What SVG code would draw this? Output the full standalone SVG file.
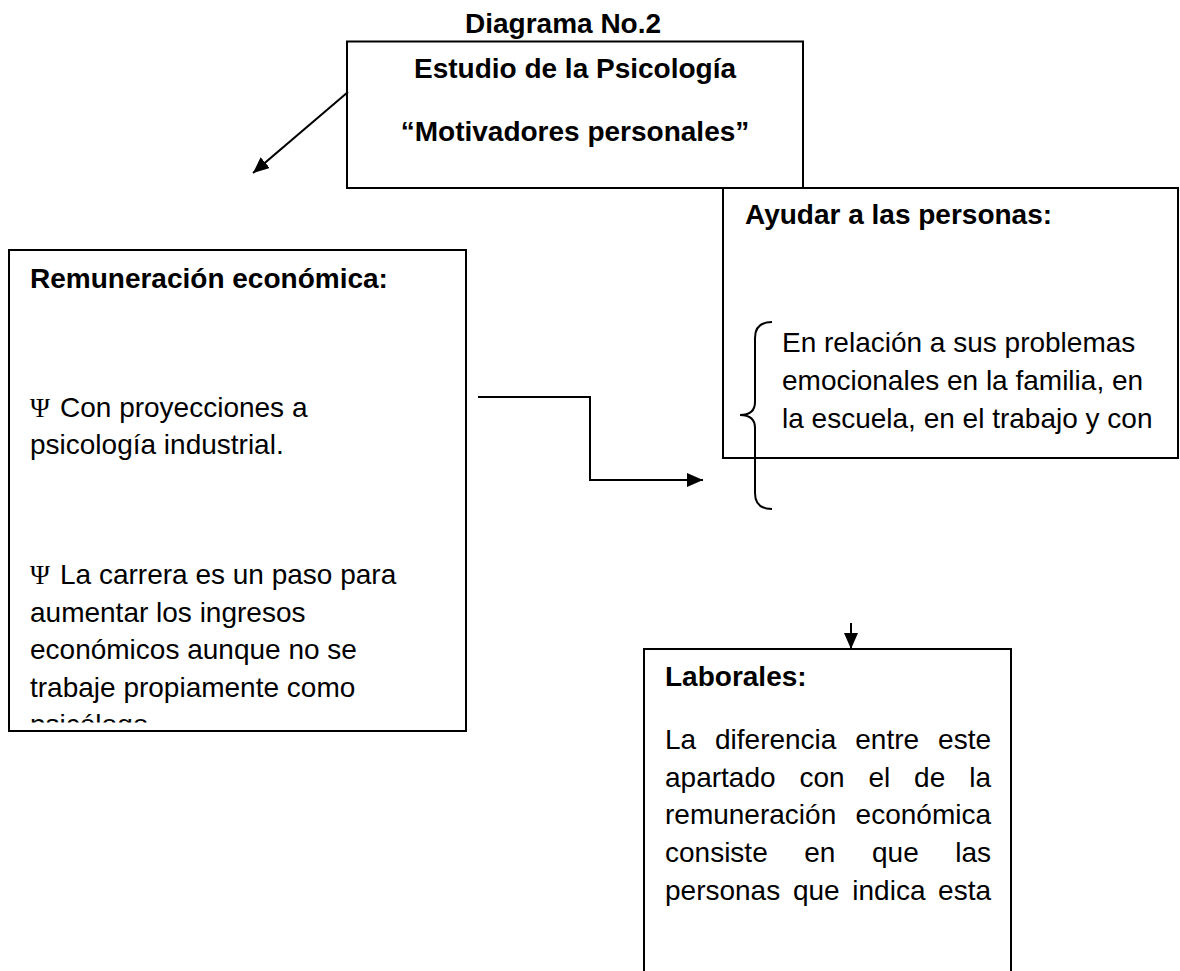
<svg xmlns="http://www.w3.org/2000/svg" width="1180" height="971" viewBox="0 0 1180 971">
<style>
  .box { fill: none; stroke: #000; stroke-width: 2; }
  .t { font-family: "Liberation Sans", Arial, sans-serif; font-size: 28px; fill: #000; }
  .b { font-weight: bold; }
  .psi { font-family: "Liberation Serif", "Times New Roman", serif; font-size: 27px; }
  .conn { fill: none; stroke: #000; stroke-width: 2; }
</style>
<defs>
  <marker id="arrow" viewBox="0 0 16 14" refX="16" refY="7" markerWidth="16" markerHeight="14" markerUnits="userSpaceOnUse" orient="auto">
    <path d="M0,0 L16,7 L0,14 z" fill="#000"/>
  </marker>
  <clipPath id="clipLeft"><rect x="9" y="250" width="457" height="472.5"/></clipPath>
</defs>
<rect width="1180" height="971" fill="#fff"/>

<text class="t b" x="465" y="33">Diagrama No.2</text>

<g id="node-estudio">
  <rect class="box" x="347" y="41.5" width="456" height="146.5"/>
  <text class="t b" x="575" y="78" text-anchor="middle">Estudio de la Psicología</text>
  <text class="t b" x="575" y="141" text-anchor="middle">“Motivadores personales”</text>
</g>

<g id="node-remuneracion">
  <rect class="box" x="9" y="250" width="457" height="481"/>
  <g clip-path="url(#clipLeft)">
    <text class="t b" x="30" y="288">Remuneración económica:</text>
    <text class="t psi" x="30" y="417">Ψ</text>
    <text class="t" x="60" y="417">Con proyecciones a</text>
    <text class="t" x="30" y="454">psicología industrial.</text>
    <text class="t psi" x="30" y="584">Ψ</text>
    <text class="t" x="60" y="584">La carrera es un paso para</text>
    <text class="t" x="30" y="621.5">aumentar los ingresos</text>
    <text class="t" x="30" y="659">económicos aunque no se</text>
    <text class="t" x="30" y="696.5">trabaje propiamente como</text>
    <text class="t" x="30" y="734">psicólogo</text>
  </g>
</g>

<g id="node-ayudar">
  <rect class="box" x="723" y="188" width="455" height="270"/>
  <text class="t b" x="745" y="224">Ayudar a las personas:</text>
  <text class="t" x="782" y="352">En relación a sus problemas</text>
  <text class="t" x="782" y="390">emocionales en la familia, en</text>
  <text class="t" x="782" y="428">la escuela, en el trabajo y con</text>
  <path class="conn" d="M772,322 C761,322 755,327 755,338 L755,402 C755,411 750,415 740,415 C750,415 755,419 755,428 L755,493 C755,504 761,509 772,509"/>
</g>

<g id="node-laborales">
  <rect class="box" x="644" y="649" width="367" height="340"/>
  <text class="t b" x="665" y="686">Laborales:</text>
  <text class="t" y="749"><tspan x="665">La</tspan><tspan x="715">diferencia</tspan><tspan x="855.3">entre</tspan><tspan x="991" text-anchor="end">este</tspan></text>
  <text class="t" y="787"><tspan x="665">apartado</tspan><tspan x="799.4">con</tspan><tspan x="868.4">el</tspan><tspan x="914.1">de</tspan><tspan x="991" text-anchor="end">la</tspan></text>
  <text class="t" y="824"><tspan x="665">remuneración</tspan><tspan x="991" text-anchor="end">económica</tspan></text>
  <text class="t" y="862"><tspan x="665">consiste</tspan><tspan x="804.3">en</tspan><tspan x="872">que</tspan><tspan x="991" text-anchor="end">las</tspan></text>
  <text class="t" y="900"><tspan x="665">personas</tspan><tspan x="792.9">que</tspan><tspan x="852.3">indica</tspan><tspan x="991" text-anchor="end">esta</tspan></text>
</g>

<g id="connectors">
  <line class="conn" x1="348" y1="92" x2="253" y2="173" marker-end="url(#arrow)"/>
  <path class="conn" d="M478,397 H590 V480 H703" marker-end="url(#arrow)"/>
  <line class="conn" x1="851" y1="623" x2="851" y2="649" marker-end="url(#arrow)"/>
</g>
</svg>
